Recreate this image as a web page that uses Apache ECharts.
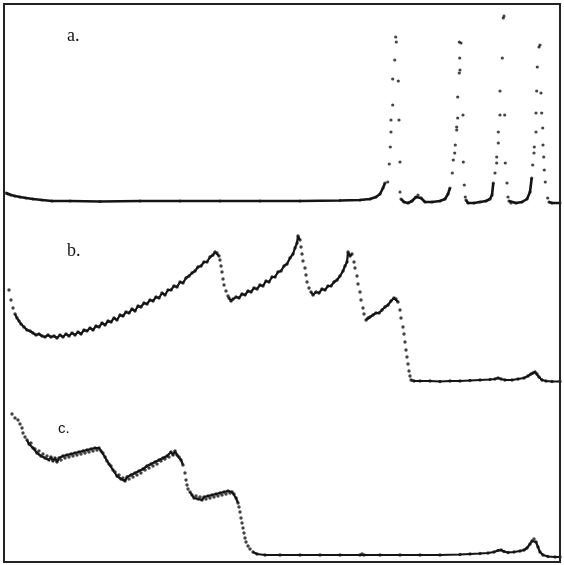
<!DOCTYPE html>
<html><head><meta charset="utf-8">
<script src="https://cdn.jsdelivr.net/npm/echarts@6/dist/echarts.min.js"></script>
<style>html,body{margin:0;padding:0;background:#fff}#c{width:564px;height:565px}</style>
</head><body><div id="c"></div>
<script>
// Panel labels
const panelLabels = ['a.', 'b.', 'c.'];

// ---- Panel a (channel, intensity) ----
const aSeg1 = [[6,18],[8,17],[11,16],[15,15],[20,14],[26,13],[33,12],[42,11],[52,10],[70,10],[100,9.5],[140,10],[180,10],[220,10],[260,10],[300,10],[340,10.5],[360,11],[370,12],[376,14],[380,17],[383,23],[385,28]];
const aDots1 = [[387.7,29],[389.3,47],[390.3,64],[391,79],[391,91],[392.7,106],[392.7,132],[394.7,151],[395.7,174],[396.3,169],[398.3,130],[399,91],[400,49],[400,19]];
const aSeg2 = [[401,12],[404,9],[408,8],[412,10],[416,14],[418,16],[421,13],[425,9],[432,9],[440,10],[445,12],[448,17],[450,23]];
const aDots2 = [[452.3,38],[453.3,51],[454.7,58],[455.3,66],[456.7,81],[456.7,84],[457.7,93],[457.7,114],[459.3,138],[460,141],[459.7,153],[459.3,169],[461,168],[463,96],[463.3,49],[464.3,26],[465.3,14]];
const aSeg3 = [[466,11],[468,8],[474,8],[480,9],[486,10],[490,12],[492,16],[493.3,28]];
const aDots3 = [[495,38],[496.7,48],[496.7,54],[498.3,68],[498.3,79],[500,96],[500,120],[502.3,153],[503.3,193],[504,195],[504.7,96],[505.3,48],[507,28],[508,14]];
const aSeg4 = [[509,10],[511,8],[516,8],[522,9],[527,12],[530,19],[531.7,33]];
const aDots4 = [[532.7,46],[534,58],[534.3,64],[536,79],[536,98],[536.7,120],[537.3,144],[539,164],[540,166],[541,118],[541.7,98],[542.7,83],[543,66],[543.7,54],[544.3,41],[545.3,29],[547.7,13]];
const aSeg5 = [[549,9],[552,8],[560,8]];

// ---- Panel b ----
const bDots0 = [[9,101],[11,91],[13,83]];
const bSeg1 = [[15,77],[17,73],[19,70],[21,67],[24,64],[27,61],[30,60],[33,58],[36,56],[39,57],[42,55],[45,54],[48,56],[51,54],[54,55],[57,53],[60,56],[63,54],[66,57],[69,55],[72,58],[75,56],[78,59],[81,57],[84,61],[87,60],[90,63],[93,61],[96,65],[99,64],[102,68],[105,66],[108,70],[111,69],[114,73],[117,71],[120,76],[123,75],[126,79],[129,78],[132,82],[135,80],[138,85],[141,84],[144,88],[147,87],[150,91],[153,90],[156,94],[159,93],[162,98],[165,96],[168,101],[171,101],[174,105],[177,104],[180,109],[183,108],[186,113],[189,115],[192,118],[195,120],[198,124],[201,125],[204,129],[207,129],[210,134],[213,136],[215,139],[217,138],[219,135]];
const bDrop1 = [[220,131],[221,125],[222,119],[223,112],[224,106],[226,100],[228,95]];
const bSeg2 = [[229,93],[231,90],[233,92],[236,94],[239,93],[242,97],[245,96],[248,100],[251,99],[254,103],[257,102],[260,106],[263,105],[266,110],[269,109],[272,114],[275,114],[278,119],[281,120],[284,125],[287,127],[290,133],[293,137],[295,143],[297,148],[298,155],[300,151]];
const bDrop2 = [[301,144],[302,137],[303,130],[305,123],[306,116],[307,109],[309,103]];
const bSeg3 = [[311,99],[313,96],[316,99],[319,98],[322,102],[325,101],[328,105],[331,105],[334,109],[337,111],[340,115],[343,120],[345,125],[347,129],[348,139],[350,135],[352,137]];
const bDrop3 = [[354,129],[355,123],[357,115],[358,107],[360,99],[361,91],[363,83],[364,77]];
const bSeg4 = [[366,71],[368,73],[370,74],[373,76],[376,78],[379,78],[382,81],[385,84],[388,86],[391,90],[394,93],[396,92],[398,89]];
const bDrop4 = [[400,81],[401,73],[403,64],[404,57],[405,49],[406,41],[407,34],[408,27],[409,20],[410,15]];
const bSeg5 = [[411,11],[414,10],[420,10],[430,10],[440,9.5],[450,10],[460,10],[470,10.5],[480,11],[490,11.5],[495,12],[498,13],[501,12],[505,11],[512,11],[518,12],[524,13],[528,15],[531,17],[533,18],[535,19],[537,17],[539,14],[542,11],[546,10],[552,9.5],[560,9.5]];

// ---- Panel c ----
const cDots0 = [[12,149],[15,145],[18,143],[20,139],[22,135],[23,130],[25,126]];
const cSeg1 = [[27,123],[29,119],[31,120],[33,115],[35,114],[37,110],[39,112],[41,107],[43,109],[45,105],[47,107],[49,103],[51,106],[53,102],[55,105],[57,101],[59,105],[61,103],[63,107],[65,105],[67,108],[69,106],[71,109],[73,107],[75,110],[77,108],[79,111],[81,109],[83,112],[85,110],[87,113],[89,111],[91,114],[93,112],[95,115],[97,113],[99,115],[101,112],[103,110],[105,106],[107,102],[109,99],[111,97],[113,93],[115,91],[117,87],[119,88],[121,84],[123,85],[125,82],[127,86],[129,84],[131,88],[133,86],[135,90],[137,88],[139,92],[141,90],[143,94],[145,93],[147,97],[149,95],[151,99],[153,97],[155,101],[157,99],[159,103],[161,102],[163,105],[165,104],[167,107],[169,106],[171,111],[173,108],[175,112],[177,108],[179,106],[181,103],[183,98]];
const cDrop1 = [[185,90],[186,83],[187,78],[188,74]];
const cSeg2 = [[190,71],[192,68],[194,65],[196,67],[198,64],[200,66],[202,63],[204,66],[206,64],[208,67],[210,65],[212,68],[214,66],[216,69],[218,67],[220,70],[222,68],[224,71],[226,69],[228,72],[230,70],[232,71],[234,69],[236,65],[238,60]];
const cDrop2 = [[239,56],[240,51],[241,45],[242,40],[243,35],[244,30],[245,25],[246,21],[248,17],[250,14]];
const cSeg3 = [[253,11],[257,9],[265,8],[280,8],[300,8],[320,8],[340,8],[360,8],[362,9],[364,8],[380,8],[400,8],[420,8],[440,8],[460,8.5],[470,9],[480,9.5],[488,10],[494,11],[498,12.5],[501,13],[504,11.5],[508,10.5],[514,11],[520,12],[524,13],[527,15],[530,19],[532,22],[534,24],[536,21],[538,16],[540,11],[543,8],[548,6.5],[555,6],[560,6]];

const INK = '#141414';
function joinSegs(segs) {
  const out = [];
  segs.forEach((s, i) => { if (i) out.push([s[0][0], '-']); s.forEach(p => out.push(p)); });
  return out;
}
function panelSeries(idx, segs, dots, lw, dotSize) {
  return [
    { type: 'line', xAxisIndex: idx, yAxisIndex: idx, data: joinSegs(segs), showSymbol: false,
      connectNulls: false, lineStyle: { color: INK, width: lw }, silent: true, z: 2 },
    { type: 'scatter', xAxisIndex: idx, yAxisIndex: idx, data: segs.flat().concat(dots),
      symbol: 'circle', symbolSize: dotSize, itemStyle: { color: INK }, silent: true, z: 3 }
  ];
}

const grids = [
  { left: 4, right: 4, top: 1, height: 210 },
  { left: 4, right: 4, top: 181, height: 210 },
  { left: 4, right: 4, top: 353, height: 210 }
];
const xAxes = grids.map((g, i) => ({ type: 'value', gridIndex: i, min: 4, max: 560, show: false }));
const yAxes = grids.map((g, i) => ({ type: 'value', gridIndex: i, min: 0, max: 210, show: false }));

const series = [].concat(
  panelSeries(0, [aSeg1, aSeg2, aSeg3, aSeg4, aSeg5], [].concat(aDots1, aDots2, aDots3, aDots4), 2.6, 3.2),
  panelSeries(1, [bSeg1, bSeg2, bSeg3, bSeg4, bSeg5], [].concat(bDots0, bDrop1, bDrop2, bDrop3, bDrop4), 2.2, 3.4),
  panelSeries(2, [cSeg1, cSeg2, cSeg3], [].concat(cDots0, cDrop1, cDrop2), 2.2, 3.4)
);

const chart = echarts.init(document.getElementById('c'), null, { renderer: 'canvas' });
chart.setOption({
  animation: false,
  backgroundColor: '#ffffff',
  grid: grids,
  xAxis: xAxes,
  yAxis: yAxes,
  series: series,
  graphic: [
    { type: 'rect', shape: { x: 4, y: 4, width: 556, height: 558 }, style: { fill: 'none', stroke: '#222', lineWidth: 2 }, silent: true, z: 10 },
    { type: 'text', left: 67, top: 27, style: { text: panelLabels[0], font: '18px "Liberation Serif", serif', fill: '#111' } },
    { type: 'text', left: 67, top: 242, style: { text: panelLabels[1], font: '18px "Liberation Serif", serif', fill: '#111' } },
    { type: 'text', left: 58, top: 421, style: { text: panelLabels[2], font: '15px "Liberation Sans", sans-serif', fill: '#111' } }
  ]
});
</script>
</body></html>
